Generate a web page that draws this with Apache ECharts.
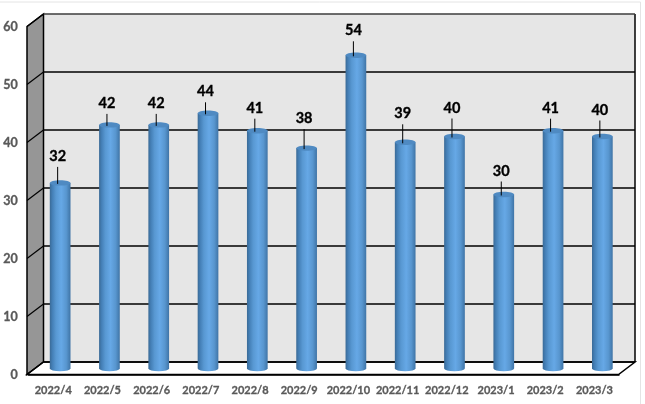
<!DOCTYPE html>
<html><head><meta charset="utf-8">
<style>html,body{margin:0;padding:0;background:#fff}#c{width:645px;height:404px}</style>
<script src="https://cdn.jsdelivr.net/npm/echarts@6/dist/echarts.min.js"></script>
</head><body><div id="c"></div>
<script>
const categories = ['2022/4','2022/5','2022/6','2022/7','2022/8','2022/9','2022/10','2022/11','2022/12','2023/1','2023/2','2023/3'];
const values = [32,42,42,44,41,38,54,39,40,30,41,40];
const ticks = [0,10,20,30,40,50,60];
// leader-line length for each label, layout only (px)
const labelLift = [16,11,11,11,12,19,14,18,18,13,12,16];

const depthX = 16.5, depthY = 12.5;
const chart = echarts.init(document.getElementById('c'), null, {renderer:'canvas'});
const W = 591.5, H = 348;
const font = 'Lato';
const hiddenCat = {type:'category',data:categories,show:false};
const hiddenVal = {type:'value',min:0,max:60,interval:10,show:false};

chart.setOption({
  animation:false,
  backgroundColor:'#fff',
  graphic:[{type:'rect',shape:{x:-2,y:2,width:642.5,height:410},style:{fill:'none',stroke:'#e4e4e4',lineWidth:1},silent:true,z:0}],
  grid:[
    {left:43.5,top:14,width:W,height:H,containLabel:false},
    {left:35.5,top:20.5,width:W,height:H},
    {left:27.5,top:26.5,width:W,height:H}
  ],
  xAxis:[
    {...hiddenCat,gridIndex:0},
    {...hiddenCat,gridIndex:1},
    {type:'category',data:categories,gridIndex:2,
      axisLine:{show:true,lineStyle:{color:'#000',width:1.5}},axisTick:{show:false},
      axisLabel:{interval:0,color:'#595959',textBorderColor:'#595959',textBorderWidth:0.3,fontFamily:font,fontWeight:'bold',fontSize:11,margin:10}}
  ],
  yAxis:[
    {...hiddenVal,gridIndex:0},
    {...hiddenVal,gridIndex:1},
    {type:'value',min:0,max:60,interval:10,gridIndex:2,
      axisLine:{show:true,lineStyle:{color:'#000',width:1.5}},axisTick:{show:false},splitLine:{show:false},
      axisLabel:{color:'#595959',textBorderColor:'#595959',textBorderWidth:0.3,fontFamily:font,fontWeight:'bold',fontSize:12.5,margin:11}}
  ],
  series:[
    // box walls, tied to the back grid's scale
    {type:'custom',xAxisIndex:0,yAxisIndex:0,data:[[0]],z:1,silent:true,
      renderItem(p,api){
        const s=p.coordSys;
        const top=api.coord([0,60])[1], bot=api.coord([0,0])[1];
        const l=s.x, r=s.x+s.width;
        const stroke={stroke:'#000',lineWidth:1.5};
        return {type:'group',children:[
          {type:'rect',shape:{x:l,y:top,width:s.width,height:bot-top},style:{fill:'#e6e6e6'}},
          {type:'polygon',shape:{points:[[l,top],[l,bot],[l-depthX,bot+depthY],[l-depthX,top+depthY]]},style:{fill:'#969696',stroke:'#000',lineWidth:1.5}},
          {type:'polygon',shape:{points:[[l,bot],[r,bot],[r-depthX,bot+depthY],[l-depthX,bot+depthY]]},style:{fill:'#fff',stroke:'#000',lineWidth:1.5}},
          {type:'line',shape:{x1:r,y1:top,x2:r,y2:bot},style:stroke}
        ]};
      }},
    // gridlines on the back wall and their continuation on the side wall
    {type:'custom',xAxisIndex:0,yAxisIndex:0,data:ticks.map(t=>[0,t]),z:2,silent:true,
      encode:{x:0,y:1},
      renderItem(p,api){
        const s=p.coordSys, y=api.coord([0,api.value(1)])[1], l=s.x;
        const c=api.value(1)===60?'#3c3c3c':'#000';
        return {type:'group',children:[
          {type:'line',shape:{x1:l,y1:y,x2:l+s.width,y2:y},style:{stroke:c,lineWidth:1.5}},
          {type:'line',shape:{x1:l,y1:y,x2:l-depthX,y2:y+depthY},style:{stroke:'#000',lineWidth:1.2}}
        ]};
      }},
    // cylinders
    {type:'custom',xAxisIndex:1,yAxisIndex:1,data:values.map((v,i)=>[i,v,labelLift[i]]),z:3,
      encode:{x:0,y:1},
      renderItem(p,api){
        const i=api.value(0), v=api.value(1), lift=api.value(2);
        const [cx,ty]=api.coord([i,v]);
        const by=api.coord([i,0])[1];
        const w=api.size([1,0])[0]*0.42, rx=w/2, ry=2.7;
        const grad=new echarts.graphic.LinearGradient(0,0,1,0,[
          {offset:0,color:'#3a6a96'},{offset:0.12,color:'#447fb6'},{offset:0.3,color:'#5898d2'},
          {offset:0.55,color:'#66a8e6'},{offset:0.8,color:'#5896cf'},{offset:1,color:'#3f74a6'}]);
        const lx=cx-2.5, ly1=ty+1, ly2=ty-lift;
        return {type:'group',children:[
          {type:'path',shape:{pathData:`M${cx-rx} ${ty}L${cx-rx} ${by}A${rx} ${ry} 0 0 0 ${cx+rx} ${by}L${cx+rx} ${ty}Z`},style:{fill:grad}},
          {type:'ellipse',shape:{cx,cy:ty,rx,ry},style:{fill:'#4f8ac2'}},
          {type:'line',shape:{x1:lx,y1:ly1,x2:lx,y2:ly2},style:{stroke:'#000',lineWidth:1}},
          {type:'text',style:{x:lx,y:ly2-3,text:String(v),fill:'#000',stroke:'#000',lineWidth:0.35,font:`bold 14.5px ${font}`,textAlign:'center',textVerticalAlign:'bottom'}}
        ]};
      }}
  ]
});
</script></body></html>
